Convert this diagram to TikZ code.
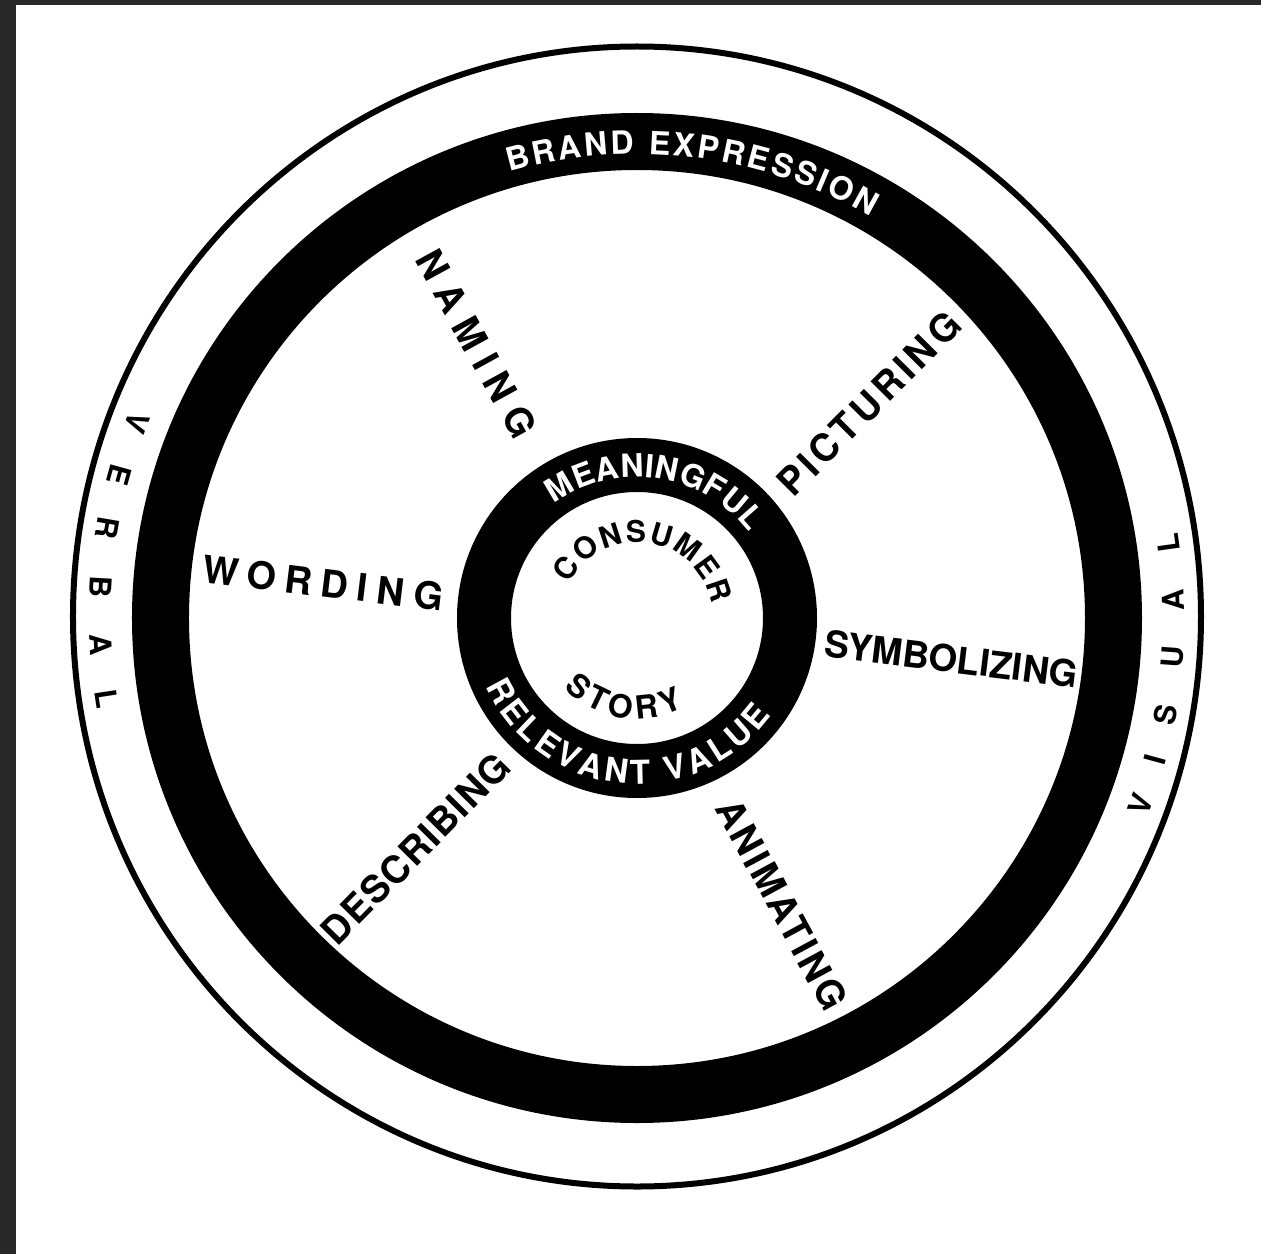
\documentclass[tikz,border=0pt]{standalone}
\usepackage{fontspec}
\newfontfamily\heros{TeX Gyre Heros}
\usetikzlibrary{decorations.text}
\definecolor{bgdark}{RGB}{40,40,40}
\newcommand\ringfont{\heros\bfseries\fontsize{32}{34}\selectfont}
\newcommand\relfont{\heros\bfseries\fontsize{33}{35}\selectfont}
\newcommand\corefont{\heros\bfseries\fontsize{30}{32}\selectfont}
\newcommand\storyfont{\heros\bfseries\fontsize{32}{34}\selectfont}
\newcommand\bigringfont{\heros\bfseries\fontsize{32}{34}\selectfont}
\begin{document}
\begin{tikzpicture}[x=1pt,y=1pt,
  spoke/.style={font=\heros\bfseries\fontsize{38}{40}\selectfont, inner sep=0pt, text=black},
  sideletter/.style={font=\heros\bfseries\fontsize{30}{32}\selectfont, inner sep=0pt, text=black},
  thinline/.style={line width=6pt, draw=black},
  bigring/.style={line width=57pt, draw=black},
  smallring/.style={line width=54pt, draw=black}]
\useasboundingbox (-637,-636) rectangle (624,618);
% background
\fill[bgdark] (-637,-636) rectangle (624,618);
\fill[white] (-621,-636) rectangle (624,613);
% circles
\draw[thinline] (0,1.5) ellipse[x radius=564pt, y radius=570pt];
\draw[bigring] (0,0) circle[radius=476.5pt];
\draw[smallring] (0,0) circle[radius=153pt];
% curved texts
\path[decorate, decoration={text along path, text color=white, text align=fit to path,
  text={|\bigringfont|BRAND EXPRESSION}}]
  (106:464pt) arc[start angle=106, end angle=59.8, radius=464pt];
\path[decorate, decoration={text along path, text color=white, text align=fit to path,
  text={|\ringfont|MEANINGFUL}}]
  (126.1:141pt) arc[start angle=126.1, end angle=37.5, radius=141pt];
\path[decorate, decoration={text along path, text color=white, text align=fit to path,
  text={|\relfont|RELEVANT VALUE}}]
  (204.4:166pt) arc[start angle=204.4, end angle=324.1, radius=166pt];
\path[decorate, decoration={text along path, text color=black, text align=fit to path,
  text={|\corefont|CONSUMER}}]
  (153:76pt) arc[start angle=153, end angle=10.6, radius=76pt];
\path[decorate, decoration={text along path, text color=black, text align=fit to path,
  text={|\storyfont|STORY}}]
  (223.7:101pt) arc[start angle=223.7, end angle=297.7, radius=101pt];
% side letters
\foreach \ch/\ang [count=\i] in {V/158.7,E/164.6,R/170.4,B/176.7,A/182.9,L/188.7}
  \node[sideletter, rotate=\ang+90] (verbal\i) at (\ang:537pt) {\ch};
\foreach \ch/\ang [count=\i] in {V/-20.3,I/-15.3,S/-10.4,U/-4.2,A/1.9,L/8.0}
  \node[sideletter, rotate=\ang+90] (visual\i) at (\ang:537pt) {\ch};
% spokes
\node[spoke, rotate=-61.2] (naming) at (-160.5,274) {\addfontfeature{LetterSpace=28}NAMING};
\node[spoke, rotate=45.2] (picturing) at (232,214.5) {\addfontfeature{LetterSpace=10.5}PICTURING};
\node[spoke, rotate=-6.9] (wording) at (-314,35) {\addfontfeature{LetterSpace=24}WORDING};
\node[spoke, rotate=-7, font=\heros\bfseries\fontsize{37}{39}\selectfont] (symbolizing) at (314.5,-41) {SYMBOLIZING};
\node[spoke, rotate=45.4] (describing) at (-221.5,-230.5) {\addfontfeature{LetterSpace=3.3}DESCRIBING};
\node[spoke, rotate=-61.6] (animating) at (145,-286.5) {\addfontfeature{LetterSpace=7}ANIMATING};
\end{tikzpicture}
\end{document}
